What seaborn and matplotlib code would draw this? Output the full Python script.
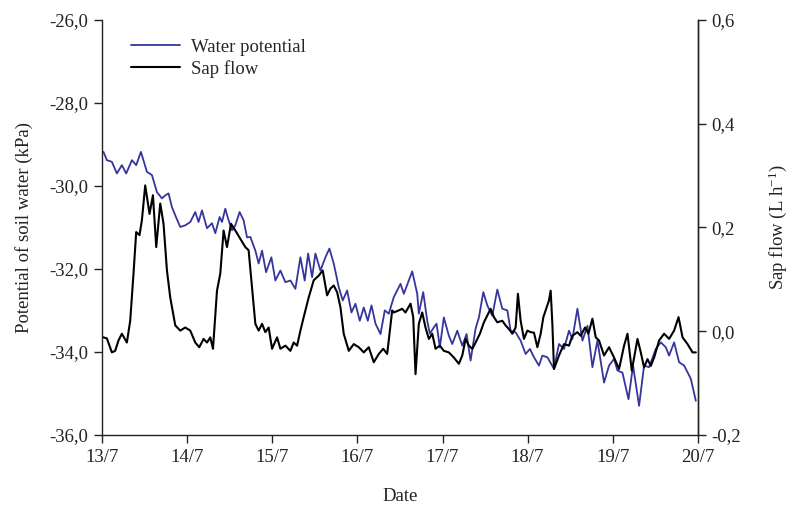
import matplotlib

matplotlib.use("Agg")
import matplotlib.pyplot as plt
import numpy as np
import pandas as pd
import seaborn as sns
from matplotlib.ticker import FuncFormatter, MultipleLocator

# hours since 13/7 00:00 and soil water potential (kPa)
wp_hours = [
    0.37, 1.33, 2.74, 4.15, 5.56, 6.78, 8.39, 9.60, 10.93, 12.62, 14.04, 15.45,
    16.86, 17.79, 18.72, 19.68, 20.62, 22.03, 23.44, 24.85, 26.26, 27.19, 28.15,
    29.57, 30.98, 31.91, 33.13, 33.80, 34.73, 35.67, 36.63, 37.56, 38.77, 39.90,
    40.86, 41.80, 43.21, 44.14, 45.10, 46.23, 47.73, 48.86, 50.27, 51.68, 53.09,
    54.50, 55.92, 57.13, 58.09, 59.22, 60.15, 61.56, 62.98, 64.10, 65.32, 66.73,
    67.86, 69.10, 70.32, 71.45, 72.66, 73.79, 74.92, 75.97, 77.10, 78.51, 79.72,
    80.85, 82.26, 84.16, 85.09, 87.46, 88.87, 89.32, 90.56, 91.69, 92.43, 93.56,
    94.32, 95.25, 96.38, 97.79, 98.75, 100.17, 101.58, 102.79, 103.92, 105.33,
    106.27, 107.51, 108.64, 110.05, 111.46, 112.87, 114.29, 115.22, 116.63,
    118.04, 119.45, 120.67, 121.80, 123.21, 124.17, 125.58, 127.45, 128.86,
    130.27, 131.68, 132.64, 134.05, 135.47, 136.88, 138.29, 139.70, 141.57,
    142.98, 144.39, 145.35, 146.76, 148.46, 149.75, 151.45, 152.86, 154.27,
    156.16, 157.58, 158.99, 159.92, 161.33, 162.74, 164.16, 166.05, 167.46,
]
wp_values = [
    -29.18, -29.38, -29.42, -29.70, -29.50, -29.70, -29.38, -29.50, -29.18,
    -29.66, -29.74, -30.15, -30.30, -30.23, -30.18, -30.51, -30.71, -30.99,
    -30.95, -30.87, -30.63, -30.87, -30.59, -31.02, -30.90, -31.14, -30.75,
    -30.87, -30.55, -30.83, -31.07, -30.95, -30.63, -30.83, -31.24, -31.23,
    -31.56, -31.87, -31.56, -32.08, -31.72, -32.28, -32.04, -32.32, -32.28,
    -32.48, -31.72, -32.28, -31.63, -32.20, -31.63, -32.04, -31.72, -31.51,
    -31.87, -32.44, -32.76, -32.52, -33.05, -32.84, -33.25, -32.93, -33.25,
    -32.88, -33.32, -33.57, -33.00, -33.08, -32.68, -32.36, -32.60, -32.06,
    -32.60, -33.08, -32.56, -33.25, -33.56, -33.41, -33.32, -33.89, -33.17,
    -33.61, -33.81, -33.49, -33.85, -33.57, -34.21, -33.44, -33.17, -32.56,
    -32.88, -33.13, -32.50, -32.96, -33.00, -33.49, -33.53, -33.73, -34.05,
    -33.93, -34.13, -34.33, -34.09, -34.13, -34.41, -33.81, -33.93, -33.49,
    -33.69, -32.96, -33.73, -33.37, -34.37, -33.73, -34.74, -34.33, -34.17,
    -34.45, -34.50, -35.14, -34.33, -35.30, -34.33, -34.37, -33.93, -33.77,
    -33.89, -34.09, -33.77, -34.25, -34.33, -34.65, -35.18,
]

# hours since 13/7 00:00 and sap flow (L h-1)
sf_hours = [
    0.37, 1.33, 2.74, 3.67, 4.60, 5.56, 6.97, 7.91, 8.84, 9.60, 10.53, 11.21,
    12.14, 13.36, 14.32, 15.25, 16.38, 17.31, 18.27, 19.20, 20.62, 22.03, 23.44,
    24.85, 26.26, 27.39, 28.61, 29.57, 30.50, 31.26, 32.39, 33.32, 34.25, 35.21,
    36.34, 37.56, 38.97, 40.38, 41.31, 42.27, 43.21, 44.14, 45.10, 46.03, 46.96,
    47.92, 49.34, 50.27, 51.68, 53.09, 54.02, 54.98, 55.92, 56.85, 58.26, 59.67,
    61.08, 62.21, 63.45, 64.38, 65.32, 66.28, 67.21, 68.14, 69.56, 70.97, 72.38,
    73.79, 75.20, 76.61, 78.03, 79.27, 80.40, 81.81, 82.26, 83.67, 84.63, 85.56,
    86.98, 87.74, 88.39, 89.32, 90.28, 91.21, 92.15, 93.11, 94.04, 95.25, 96.38,
    97.79, 99.21, 100.62, 101.58, 102.51, 103.44, 104.40, 105.33, 106.55,
    107.68, 108.64, 109.57, 110.50, 111.46, 112.87, 113.80, 114.74, 115.70,
    116.63, 117.28, 118.04, 118.97, 119.93, 120.86, 121.80, 122.76, 123.69,
    124.45, 126.03, 126.51, 126.99, 127.45, 128.86, 130.27, 131.68, 132.64,
    134.05, 134.98, 136.20, 137.16, 138.29, 139.22, 140.15, 141.57, 142.98,
    144.39, 145.80, 147.22, 148.18, 149.39, 151.00, 151.93, 152.86, 153.82,
    154.75, 155.69, 157.10, 158.51, 159.92, 161.33, 162.58, 163.71, 165.12,
    166.53, 167.46,
]
sf_values = [
    -0.012, -0.014, -0.041, -0.038, -0.018, -0.005, -0.022, 0.020, 0.111, 0.191,
    0.185, 0.214, 0.281, 0.226, 0.262, 0.162, 0.246, 0.207, 0.117, 0.065, 0.011,
    0.001, 0.007, 0.001, -0.022, -0.031, -0.015, -0.022, -0.012, -0.034, 0.078,
    0.111, 0.194, 0.162, 0.207, 0.194, 0.178, 0.162, 0.156, 0.085, 0.014, 0.001,
    0.014, -0.002, 0.007, -0.034, -0.012, -0.034, -0.028, -0.038, -0.022, -0.028,
    0.001, 0.027, 0.065, 0.098, 0.107, 0.117, 0.069, 0.082, 0.088, 0.075, 0.046,
    -0.005, -0.038, -0.025, -0.031, -0.041, -0.031, -0.060, -0.044, -0.034,
    -0.044, 0.040, 0.036, 0.040, 0.043, 0.036, 0.053, 0.027, -0.083, 0.014,
    0.036, 0.007, -0.015, -0.005, -0.034, -0.028, -0.038, -0.041, -0.051,
    -0.063, -0.047, -0.015, -0.028, -0.034, -0.022, -0.005, 0.017, 0.030, 0.043,
    0.027, 0.017, 0.020, 0.011, 0.004, -0.005, 0.007, 0.072, 0.020, -0.015,
    0.001, -0.002, -0.003, -0.031, -0.005, 0.027, 0.059, 0.078, 0.014, -0.073,
    -0.047, -0.025, -0.028, -0.009, -0.002, -0.009, 0.007, -0.005, 0.024, -0.012,
    -0.018, -0.047, -0.031, -0.051, -0.073, -0.028, -0.005, -0.076, -0.015,
    -0.041, -0.070, -0.054, -0.067, -0.051, -0.018, -0.005, -0.015, 0.001, 0.027,
    -0.012, -0.025, -0.041, -0.041,
]

day_ticks = [13, 14, 15, 16, 17, 18, 19, 20]
day_labels = [f"{d}/7" for d in day_ticks]

BLUE = "#35359c"
FONT = 13.5


def comma_fmt(v, _pos):
    return f"{round(v, 1):.1f}".replace(".", ",").replace("-0,0", "0,0")


sns.set_theme(style="ticks")
plt.rcParams["font.family"] = ["Liberation Serif", "DejaVu Serif"]
plt.rcParams["mathtext.fontset"] = "custom"
plt.rcParams["mathtext.rm"] = "Liberation Serif"
plt.rcParams["mathtext.it"] = "Liberation Serif:italic"

wp_df = pd.DataFrame({"day": 13 + np.array(wp_hours) / 24, "wp": wp_values})
sf_df = pd.DataFrame({"day": 13 + np.array(sf_hours) / 24, "sf": sf_values})

fig = plt.figure(figsize=(7.92, 5.11), dpi=100)
ax = fig.add_axes([0.129, 0.149, 0.752, 0.812])
ax2 = ax.twinx()

sns.lineplot(data=wp_df, x="day", y="wp", ax=ax, color=BLUE, linewidth=1.3,
             label="Water potential", legend=False)
sns.lineplot(data=sf_df, x="day", y="sf", ax=ax2, color="black", linewidth=1.5,
             label="Sap flow", legend=False)

ax.set_xlim(13, 20)
ax.set_ylim(-36, -26)
ax2.set_ylim(-0.2, 0.6)
ax.set_xticks(day_ticks)
ax.set_xticklabels(day_labels)
ax.yaxis.set_major_locator(MultipleLocator(2))
ax2.yaxis.set_major_locator(MultipleLocator(0.2))
ax.yaxis.set_major_formatter(FuncFormatter(comma_fmt))
ax2.yaxis.set_major_formatter(FuncFormatter(comma_fmt))

for a in (ax, ax2):
    a.spines["top"].set_visible(False)
    for s in a.spines.values():
        s.set_linewidth(1.0)
        s.set_color("#222222")
    a.tick_params(direction="out", length=6, width=1, colors="#222222",
                  labelsize=FONT, labelcolor="#222222", pad=4)
ax2.spines["left"].set_visible(False)
ax2.spines["bottom"].set_visible(False)

ax.set_xlabel("Date", fontsize=FONT, color="#222222", labelpad=16)
ax.set_ylabel("Potential of soil water (kPa)", fontsize=FONT, color="#222222",
              labelpad=12)
ax2.set_ylabel("Sap flow (L h$^{-1}$)", fontsize=FONT, color="#222222",
               labelpad=18)

handles = ax.get_lines()[:1] + ax2.get_lines()[:1]
ax.legend(handles, ["Water potential", "Sap flow"], loc="upper left",
          bbox_to_anchor=(0.02, 0.995), frameon=False, fontsize=FONT,
          handlelength=2.6, handletextpad=0.6, labelspacing=0.2)

fig.savefig("out.png", dpi=100)
